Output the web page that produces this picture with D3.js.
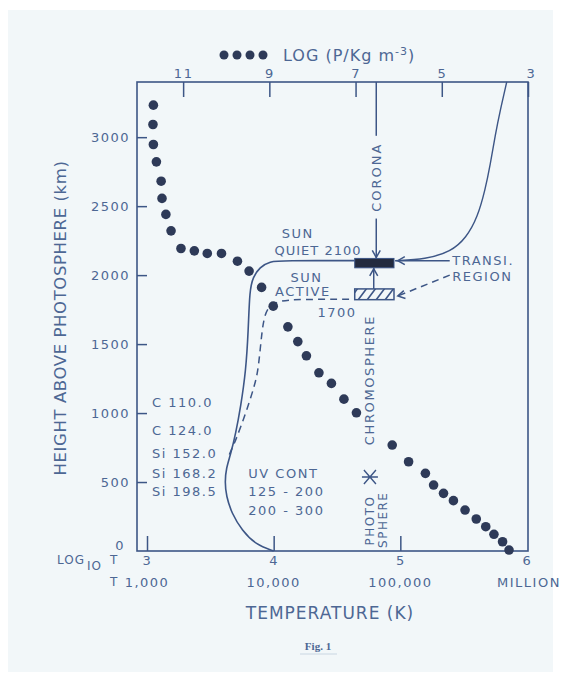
<!DOCTYPE html>
<html>
<head>
<meta charset="utf-8">
<script src="https://cdn.jsdelivr.net/npm/d3@7"></script>
<style>
body { margin: 0; background: #fff; }
svg text { font-family: "DejaVu Sans", sans-serif; fill: #4d6794; }
</style>
</head>
<body>
<div id="chart"></div>
<script>
// axis ticks
const rhoTicks = [11, 9, 7, 5, 3];
const tempTicks = [3, 4, 5, 6];
const tempTickNames = ["1,000", "10,000", "100,000", "MILLION"];
const heightTicks = [0, 500, 1000, 1500, 2000, 2500, 3000];

// density dots: log rho (top axis) against height (km)
const densityLogRho = [11.69, 11.70, 11.69, 11.62, 11.51, 11.49, 11.40, 11.28, 11.05, 10.74,
    10.44, 10.11, 9.74, 9.47, 9.18, 8.91, 8.57, 8.34, 8.14, 7.85,
    7.56, 7.27, 6.98, 6.15, 5.77, 5.38, 5.19, 4.96, 4.73, 4.46,
    4.20, 3.98, 3.79, 3.59, 3.44];
const densityHeight = [3232, 3092, 2947, 2821, 2681, 2556, 2440, 2321, 2193, 2176,
    2157, 2157, 2101, 2029, 1911, 1775, 1625, 1518, 1415, 1292,
    1215, 1101, 1002, 768, 647, 563, 478, 418, 365, 297,
    232, 176, 121, 67, 7];

// quiet sun temperature (solid), log T against height
const quietLogT = [4.00, 3.86, 3.75, 3.67, 3.625, 3.615, 3.625, 3.66, 3.70, 3.74, 3.78, 3.80, 3.81, 3.837, 3.89, 3.97, 4.07, 4.64];
const quietHeight = [0, 45, 150, 270, 400, 500, 600, 700, 850, 1050, 1300, 1600, 1890, 1985, 2058, 2100, 2105, 2105];

// corona branch above the transition region
const coronaLogT = [4.96, 5.20, 5.40, 5.52, 5.61, 5.67, 5.71, 5.75, 5.79, 5.84];
const coronaHeight = [2105, 2115, 2170, 2270, 2420, 2620, 2800, 3020, 3200, 3400];

// active sun temperature (dashed)
const activeLogT = [3.65, 3.70, 3.78, 3.85, 3.88, 3.905, 3.93, 3.97, 4.05, 4.20, 4.64];
const activeHeight = [700, 800, 1000, 1200, 1320, 1580, 1720, 1780, 1815, 1825, 1825];

// transition region boxes [logT0, logT1, h0, h1]
const quietBox = [4.64, 4.95, 2053, 2121];
const activeBox = [4.64, 4.95, 1822, 1900];

const lineLabels = ["C 110.0", "C 124.0", "Si 152.0", "Si 168.2", "Si 198.5"];
const lineLabelHeights = [1080, 877, 710, 565, 428];
const uvLabels = ["UV CONT", "125 - 200", "200 - 300"];
const uvLabelHeights = [565, 428, 290];

const W = 562, H = 679;
const L = 137, R = 528, T = 82, B = 551;
const ink = "#3d5686", dotInk = "#2e3a58";

const svg = d3.select("#chart").append("svg")
    .attr("width", W)
    .attr("height", H);

svg.append("rect").attr("width", W).attr("height", H).attr("fill", "#fff");
svg.append("rect")
    .attr("x", 8).attr("y", 10)
    .attr("width", 545).attr("height", 662)
    .attr("fill", "#f2f7f9");

const rhoScale = d3.scaleLinear().domain([12.07, 3]).range([L, R]);
const tScale = d3.scaleLinear().domain([2.921, 6.008]).range([L, R]);
const hScale = d3.scaleLinear().domain([0, 3400]).range([B, T]);

const defs = svg.append("defs");
const hatch = defs.append("pattern")
    .attr("id", "hatch")
    .attr("patternUnits", "userSpaceOnUse")
    .attr("width", 9).attr("height", 12);
hatch.append("path")
    .attr("d", "M-2,12 L7,0 M7,12 L16,0")
    .attr("stroke", ink).attr("stroke-width", 1.6);

// frame
svg.append("rect")
    .attr("x", L).attr("y", T)
    .attr("width", R - L).attr("height", B - T)
    .attr("fill", "none").attr("stroke", ink).attr("stroke-width", 1.6);

// axes
const topAxis = svg.append("g")
    .attr("transform", `translate(0,${T})`)
    .call(d3.axisTop(rhoScale).tickValues(rhoTicks).tickSize(-15).tickPadding(4).tickFormat(d3.format("d")));
const bottomAxis = svg.append("g")
    .attr("transform", `translate(0,${B})`)
    .call(d3.axisBottom(tScale).tickValues(tempTicks).tickSize(-15).tickPadding(5).tickFormat(d3.format("d")));
const leftAxis = svg.append("g")
    .attr("transform", `translate(${L},0)`)
    .call(d3.axisLeft(hScale).tickValues(heightTicks).tickSize(-10).tickPadding(7).tickFormat(d3.format("d")));

[topAxis, bottomAxis, leftAxis].forEach(a => {
    a.select(".domain").remove();
    a.selectAll(".tick line").attr("stroke", ink).attr("stroke-width", 1.5);
    a.selectAll(".tick text")
        .attr("fill", "#4d6794")
        .style("font-family", "DejaVu Sans, sans-serif")
        .style("font-size", "13px")
        .style("letter-spacing", "1.5px");
});
topAxis.selectAll(".tick").filter(d => d === 3).select("text").attr("dx", 3);
leftAxis.selectAll(".tick").filter(d => d === 0).select("line").remove();
leftAxis.selectAll(".tick").filter(d => d === 0).select("text").attr("dy", "-0.1em").attr("x", -12);
bottomAxis.selectAll(".tick").filter(d => d === 6).select("line").remove();

// second row of temperature labels
svg.append("g").selectAll("text")
    .data(tempTicks)
    .join("text")
    .attr("x", (d, i) => tScale(d) + (i === 3 ? 2 : 0))
    .attr("y", 587)
    .attr("text-anchor", "middle")
    .style("font-size", "13px")
    .style("letter-spacing", "1.5px")
    .text((d, i) => tempTickNames[i]);

const logLabel = svg.append("text").attr("x", 57).attr("y", 564).style("font-size", "12px").style("letter-spacing", "1px");
logLabel.append("tspan").text("LOG");
logLabel.append("tspan").attr("dy", 6).attr("dx", 2).text("IO");
logLabel.append("tspan").attr("dy", -6).attr("dx", 8).text("T");
svg.append("text").attr("x", 110).attr("y", 586).style("font-size", "12px").text("T");

// axis titles
svg.append("text")
    .attr("x", 330).attr("y", 619)
    .attr("text-anchor", "middle")
    .style("font-size", "17px")
    .style("letter-spacing", "1px")
    .text("TEMPERATURE (K)");

svg.append("text")
    .attr("transform", "translate(66,318) rotate(-90)")
    .attr("text-anchor", "middle")
    .style("font-size", "16.5px")
    .style("letter-spacing", "0.6px")
    .text("HEIGHT ABOVE PHOTOSPHERE (km)");

// legend for the dots
svg.append("g").selectAll("circle")
    .data([0, 1, 2, 3])
    .join("circle")
    .attr("cx", d => 224 + d * 13)
    .attr("cy", 55)
    .attr("r", 4.5)
    .attr("fill", dotInk);
const legText = svg.append("text").attr("x", 283).attr("y", 61).style("font-size", "16px").style("letter-spacing", "1px");
legText.append("tspan").text("LOG (P/Kg m");
legText.append("tspan").attr("dy", -6).style("font-size", "11px").text("-3");
legText.append("tspan").attr("dy", 6).text(")");

// curves
const line = d3.line()
    .x(d => tScale(d[0]))
    .y(d => hScale(d[1]))
    .curve(d3.curveBasis);

svg.append("path")
    .datum(quietLogT.map((t, i) => [t, quietHeight[i]]))
    .attr("d", line)
    .attr("fill", "none").attr("stroke", ink).attr("stroke-width", 1.6);

svg.append("path")
    .datum(coronaLogT.map((t, i) => [t, coronaHeight[i]]))
    .attr("d", line)
    .attr("fill", "none").attr("stroke", ink).attr("stroke-width", 1.4);

svg.append("path")
    .datum(activeLogT.map((t, i) => [t, activeHeight[i]]))
    .attr("d", line)
    .attr("fill", "none").attr("stroke", ink).attr("stroke-width", 1.5)
    .attr("stroke-dasharray", "7,5");

// transition region pointers
svg.append("line")
    .attr("x1", tScale(5.39)).attr("y1", hScale(2105))
    .attr("x2", tScale(4.96)).attr("y2", hScale(2105))
    .attr("stroke", ink).attr("stroke-width", 1.5);
svg.append("line")
    .attr("x1", tScale(5.39)).attr("y1", hScale(2000))
    .attr("x2", tScale(4.96)).attr("y2", hScale(1841))
    .attr("stroke", ink).attr("stroke-width", 1.5)
    .attr("stroke-dasharray", "7,5");

function chevron(x, y, angle) {
    svg.append("path")
        .attr("transform", `translate(${x},${y}) rotate(${angle})`)
        .attr("d", "M7,-4 L0,0 L7,4")
        .attr("fill", "none").attr("stroke", ink).attr("stroke-width", 1.5);
}
chevron(tScale(4.98), hScale(2105), 0);
chevron(tScale(4.98), hScale(1841) - 1, -12);

// corona marker line
const cx = tScale(4.81);
svg.append("line")
    .attr("x1", cx).attr("y1", hScale(3400)).attr("x2", cx).attr("y2", hScale(3010))
    .attr("stroke", ink).attr("stroke-width", 1.5);
svg.append("line")
    .attr("x1", cx).attr("y1", hScale(2410)).attr("x2", cx).attr("y2", hScale(quietBox[3]))
    .attr("stroke", ink).attr("stroke-width", 1.5);
chevron(cx, hScale(quietBox[3]) - 1, -90);
const ux = tScale(4.79);
svg.append("line")
    .attr("x1", ux).attr("y1", hScale(activeBox[3])).attr("x2", ux).attr("y2", hScale(quietBox[2]))
    .attr("stroke", ink).attr("stroke-width", 1.5);
chevron(ux, hScale(quietBox[2]) + 1, 90);

// boxes
svg.append("rect")
    .attr("x", tScale(quietBox[0])).attr("y", hScale(quietBox[3]))
    .attr("width", tScale(quietBox[1]) - tScale(quietBox[0]))
    .attr("height", hScale(quietBox[2]) - hScale(quietBox[3]))
    .attr("fill", "#232b3f").attr("stroke", ink);
svg.append("rect")
    .attr("x", tScale(activeBox[0])).attr("y", hScale(activeBox[3]))
    .attr("width", tScale(activeBox[1]) - tScale(activeBox[0]))
    .attr("height", hScale(activeBox[2]) - hScale(activeBox[3]))
    .attr("fill", "url(#hatch)").attr("stroke", ink).attr("stroke-width", 1.5);

// density dots
svg.append("g").selectAll("circle")
    .data(densityLogRho.map((r, i) => [r, densityHeight[i]]))
    .join("circle")
    .attr("cx", d => rhoScale(d[0]))
    .attr("cy", d => hScale(d[1]))
    .attr("r", 4.8)
    .attr("fill", dotInk);

// photosphere star
const sx = tScale(4.76), sy = hScale(536);
svg.append("path")
    .attr("d", `M${sx - 8},${sy} L${sx + 8},${sy} M${sx - 6},${sy - 7} L${sx + 6},${sy + 7} M${sx - 6},${sy + 7} L${sx + 6},${sy - 7}`)
    .attr("stroke", ink).attr("stroke-width", 1.4);

// annotations
function note(text, t, h, opts = {}) {
    return svg.append("text")
        .attr("x", tScale(t)).attr("y", hScale(h))
        .attr("text-anchor", opts.anchor || "start")
        .attr("dominant-baseline", "central")
        .style("font-size", (opts.size || 13) + "px")
        .style("letter-spacing", (opts.spacing || 1.5) + "px")
        .text(text);
}
note("SUN", 4.19, 2304, { anchor: "middle" });
note("QUIET 2100", 4.35, 2181, { anchor: "middle", spacing: 1 });
note("SUN", 4.26, 1986, { anchor: "middle" });
note("ACTIVE", 4.23, 1884, { anchor: "middle" });
note("1700", 4.50, 1732, { anchor: "middle" });
note("TRANSI.", 5.41, 2109, { spacing: 1.5 });
note("REGION", 5.41, 1993, { spacing: 1.5 });

function vnote(text, t, h, anchor, size, spacing) {
    svg.append("text")
        .attr("transform", `translate(${tScale(t)},${hScale(h)}) rotate(-90)`)
        .attr("text-anchor", anchor)
        .attr("dominant-baseline", "central")
        .style("font-size", size + "px")
        .style("letter-spacing", spacing + "px")
        .text(text);
}
vnote("CORONA", 4.81, 2710, "middle", 13, 2);
vnote("CHROMOSPHERE", 4.76, 1239, "middle", 13, 1.6);
vnote("PHOTO", 4.76, 40, "start", 12, 1.5);
vnote("SPHERE", 4.86, 22, "start", 12, 1.5);

lineLabels.forEach((s, i) => note(s, 3.04, lineLabelHeights[i], { spacing: 1.5 }));
uvLabels.forEach((s, i) => note(s, 3.80, uvLabelHeights[i], { spacing: 1.5 }));

// caption
svg.append("text")
    .attr("x", 318).attr("y", 650)
    .attr("text-anchor", "middle")
    .style("font-family", "Liberation Serif, serif")
    .style("font-weight", "bold")
    .style("font-size", "11px")
    .attr("fill", "#3a4c72")
    .text("Fig. 1");
svg.append("line")
    .attr("x1", 300).attr("x2", 337).attr("y1", 654).attr("y2", 654)
    .attr("stroke", "#c9d6e2").attr("stroke-width", 1);
</script>
</body>
</html>
